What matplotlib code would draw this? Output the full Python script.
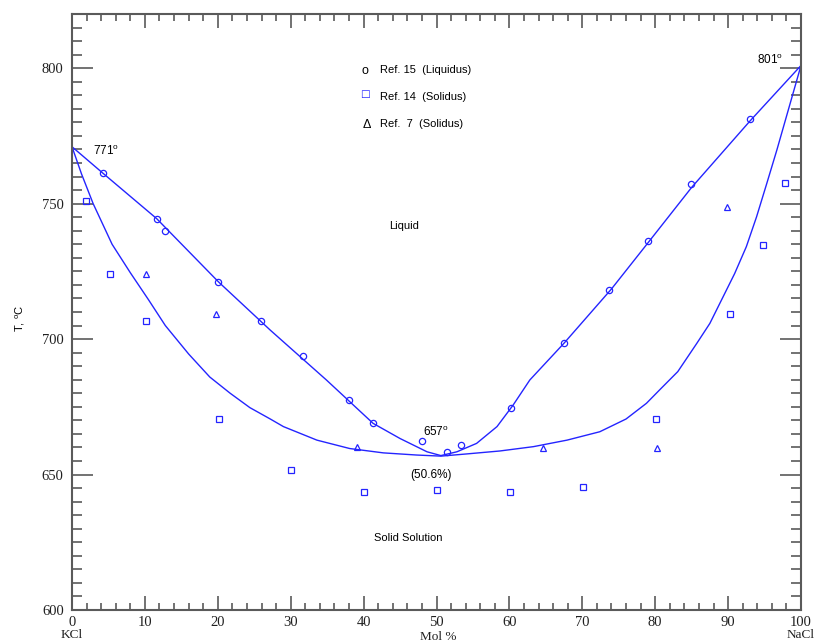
import numpy as np
import matplotlib
matplotlib.use("Agg")
from matplotlib import pyplot as plt
from matplotlib.ticker import MultipleLocator

plt.rcParams['mathtext.fontset'] = 'custom'
plt.rcParams['mathtext.rm'] = 'Liberation Sans'

# experimental points
liq15_x = [4.3, 11.6, 12.8, 20.0, 25.9, 31.7, 38.0, 41.3, 48.0, 51.4, 53.4, 60.2, 67.5, 73.7, 79.0, 84.9, 93.0]
liq15_t = [761.3, 744.4, 739.9, 721.1, 706.6, 693.7, 677.5, 669.0, 662.2, 658.4, 661.0, 674.5, 698.5, 718.0, 736.2, 757.2, 781.2]

sol14_x = [1.9, 5.2, 10.2, 20.2, 30.1, 40.1, 50.1, 60.1, 70.1, 80.1, 90.2, 94.8, 97.8]
sol14_t = [751.0, 724.2, 706.5, 670.5, 651.7, 643.5, 644.3, 643.5, 645.4, 670.4, 709.2, 734.6, 757.8]

sol7_x = [10.2, 19.8, 39.1, 64.6, 80.2, 89.9]
sol7_t = [724.0, 709.2, 660.1, 659.7, 659.7, 748.6]

# fitted curves
liq_x = [0, 4.3, 11.6, 20.1, 27.2, 34.9, 38.1, 41.3, 45.0, 48.7, 50.6, 52.8, 55.5, 58.3, 60.5,
         62.8, 67.5, 74.0, 79.0, 85.0, 93.0, 100]
liq_t = [771, 761.1, 744.5, 721.1, 703.3, 684.9, 676.9, 668.9, 663.3, 658.4, 657.0, 658.4, 661.5, 667.7, 675.6,
         684.9, 698.5, 718.5, 735.5, 756.0, 780.5, 801]

sol_x = [0, 1.3, 2.9, 5.5, 8.0, 10.5, 12.8, 16.0, 18.9, 21.7, 24.4, 27.2, 29.0, 33.6, 38.1, 42.7, 47.3,
         50.6, 54.1, 58.7, 63.3, 67.9, 72.4, 76.0, 78.8, 80.7, 83.1, 85.7, 87.5, 90.9, 92.5, 93.9, 95.3,
         96.7, 100]
sol_t = [771, 761.0, 750.0, 735.0, 724.5, 714.5, 705.0, 694.5, 686.0, 680.0, 674.7, 670.5, 667.7, 662.7,
         659.6, 658.0, 657.2, 656.8, 657.6, 658.7, 660.3, 662.7, 665.8, 670.5, 676.3, 681.5, 688.0, 698.4,
         705.8, 724.2, 734.1, 745.1, 757.4, 769.9, 801]

blue = '#2424ff'
serif = 'Liberation Serif'
sans = 'Liberation Sans'

fig = plt.figure(figsize=(8.16, 6.43), dpi=100)
ax = fig.add_axes([72/816, 1-610/643, (801-72)/816, (610-14)/643])

ax.plot(liq_x, liq_t, color=blue, lw=1.0, clip_on=False)
ax.plot(sol_x, sol_t, color=blue, lw=1.0, clip_on=False)
ax.plot(liq15_x, liq15_t, 'o', ms=4.5, mfc='none', mec=blue, mew=0.9)
ax.plot(sol14_x, sol14_t, 's', ms=4.2, mfc='none', mec=blue, mew=0.9)
ax.plot(sol7_x, sol7_t, '^', ms=4.5, mfc='none', mec=blue, mew=0.9)

ax.set_xlim(0, 100)
ax.set_ylim(600, 820)
ax.xaxis.set_major_locator(MultipleLocator(10))
ax.xaxis.set_minor_locator(MultipleLocator(2))
ax.yaxis.set_major_locator(MultipleLocator(50))
ax.yaxis.set_minor_locator(MultipleLocator(5))
ax.set_yticks([600, 650, 700, 750, 800])

for s in ax.spines.values():
    s.set_color('#5a5a5a')
    s.set_linewidth(1.5)
ax.tick_params(which='both', direction='in', top=True, right=True, colors='#5a5a5a', width=1.2)
ax.tick_params(axis='x', which='major', length=10, pad=4)
ax.tick_params(axis='x', which='minor', length=5)
ax.tick_params(axis='y', which='major', length=15, pad=6)
ax.tick_params(axis='y', which='minor', length=7.5)
for lab in ax.get_xticklabels() + ax.get_yticklabels():
    lab.set_fontfamily(serif)
    lab.set_fontsize(10.5)
    lab.set_color('#202020')

# annotations
ax.text(2.9, 769.5, r'771$^{\rm o}$', fontsize=8.5, family=sans, va='center')
ax.text(94.0, 803, r'801$^{\rm o}$', fontsize=8.5, family=sans, va='center')
ax.text(48.2, 665.5, r'657$^{\rm o}$', fontsize=8.5, family=sans, va='center')
ax.text(49.3, 649.8, '(50.6%)', fontsize=8.5, family=sans, ha='center', va='center')
ax.text(45.5, 741.7, 'Liquid', fontsize=8, family=sans, ha='center', va='center')
ax.text(46.1, 626.6, 'Solid Solution', fontsize=8, family=sans, ha='center', va='center')

# key
ax.text(40.2, 798.9, 'o', fontsize=9, family=sans, ha='center', va='center')
ax.text(40.2, 790.5, '\u25a1', fontsize=7.5, family='DejaVu Sans', ha='center', va='center', color=blue)
ax.text(40.5, 779.0, '\u0394', fontsize=9, family=sans, ha='center', va='center')
ax.text(42.3, 799.3, 'Ref. 15  (Liquidus)', fontsize=8, family=sans, va='center')
ax.text(42.3, 789.5, 'Ref. 14  (Solidus)', fontsize=8, family=sans, va='center')
ax.text(42.3, 779.3, 'Ref.  7  (Solidus)', fontsize=8, family=sans, va='center')

fig.text(20/816, 1-318/643, r'T, $^{\rm o}$C', fontsize=8, family=sans, rotation=90, ha='center', va='center')
fig.text(72/816, 1-634.5/643, 'KCl', fontsize=9.5, family=serif, ha='center', va='center', color='#202020')
fig.text(801/816, 1-634.5/643, 'NaCl', fontsize=9.5, family=serif, ha='center', va='center', color='#202020')
fig.text(438/816, 1-637.5/643, 'Mol %', fontsize=9.5, family=serif, ha='center', va='center', color='#202020')

fig.savefig('out.png', dpi=100)
